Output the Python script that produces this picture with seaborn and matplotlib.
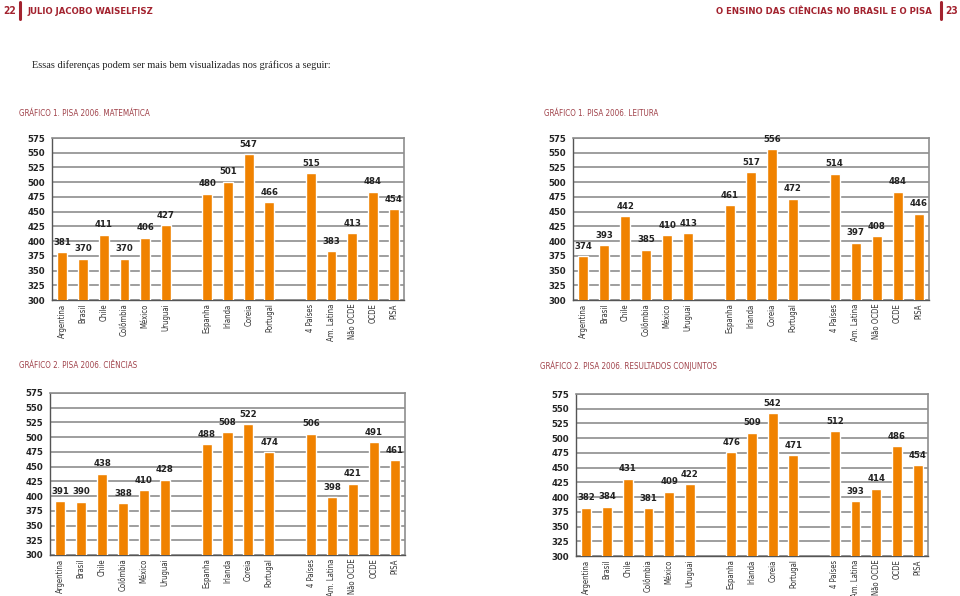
import matplotlib
matplotlib.use("Agg")
import matplotlib.pyplot as plt
import seaborn as sns
import pandas as pd
import numpy as np

# categories (two blank slots separate the groups)
countries = ["Argentina", "Brasil", "Chile", "Colômbia", "México", "Uruguai",
             "Espanha", "Irlanda", "Coreia", "Portugal",
             "4 Países", "Am. Latina", "Não OCDE", "OCDE", "PISA"]
order = countries[:6] + [" "] + countries[6:10] + ["  "] + countries[10:]

matematica = [381, 370, 411, 370, 406, 427, 480, 501, 547, 466, 515, 383, 413, 484, 454]
leitura = [374, 393, 442, 385, 410, 413, 461, 517, 556, 472, 514, 397, 408, 484, 446]
ciencias = [391, 390, 438, 388, 410, 428, 488, 508, 522, 474, 506, 398, 421, 491, 461]
conjuntos = [382, 384, 431, 381, 409, 422, 476, 509, 542, 471, 512, 393, 414, 486, 454]

titles = ["GRÁFICO 1. PISA 2006. MATEMÁTICA", "GRÁFICO 1. PISA 2006. LEITURA",
          "GRÁFICO 2. PISA 2006. CIÊNCIAS", "GRÁFICO 2. PISA 2006. RESULTADOS CONJUNTOS"]

sns.set_style("white")
plt.rcParams['font.family'] = ['DejaVu Sans']
plt.rcParams['font.stretch'] = 'condensed'

ORANGE = "#F08200"
RED = "#A3232F"
TITLE_RED = "#A0424A"
GRID = "#8E8E8E"

W, H = 960, 596
fig = plt.figure(figsize=(9.6, 5.96), dpi=100)


def px_axes(left, right, top, bottom):
    return fig.add_axes([left / W, 1 - bottom / H, (right - left) / W, (bottom - top) / H])


def draw(ax, values):
    df = pd.DataFrame({"pais": countries, "valor": values})
    sns.barplot(data=df, x="pais", y="valor", order=order, color=ORANGE,
                saturation=1, width=0.48, ax=ax, zorder=3)
    for c in ax.containers:
        labels = [f"{v:.0f}" if not np.isnan(v) else "" for v in c.datavalues]
        ax.bar_label(c, labels=labels, padding=4, fontsize=6.8,
                     fontweight="bold", color="#222222")
    ax.set_ylim(300, 575)
    ax.set_yticks(np.arange(300, 576, 25))
    ax.yaxis.grid(True, color=GRID, linewidth=1.2, zorder=0)
    ax.set_axisbelow(True)
    ax.set_xlim(-0.5, len(order) - 0.5)
    ax.set_xlabel("")
    ax.set_ylabel("")
    ax.set_xticks(range(len(order)))
    ax.set_xticklabels([o.strip() for o in order], rotation=90, fontsize=5.6,
                       color="#333333")
    ax.set_xticks(np.arange(-0.5, len(order), 1), minor=True)
    ax.tick_params(axis="x", which="major", length=0, pad=2.5)
    ax.tick_params(axis="x", which="minor", length=4, width=0.8, color="#555555")
    ax.tick_params(axis="y", length=3, width=0.8, color="#555555", pad=2,
                   labelsize=6.8)
    for lab in ax.get_yticklabels():
        lab.set_fontweight("bold")
        lab.set_color("#222222")
    for s in ["left", "bottom"]:
        ax.spines[s].set_color("#555555")
        ax.spines[s].set_linewidth(1.0)
    for s in ["right", "top"]:
        ax.spines[s].set_color(GRID)
        ax.spines[s].set_linewidth(1.2)


ax1 = px_axes(52, 404, 138, 300)
ax2 = px_axes(573, 929, 138, 300)
ax3 = px_axes(50, 405, 393, 555)
ax4 = px_axes(576, 928, 394, 556)

for ax, vals in zip([ax1, ax2, ax3, ax4], [matematica, leitura, ciencias, conjuntos]):
    draw(ax, vals)

# page header
fig.text(3 / W, 1 - 11 / H, "22", fontsize=7.3, fontweight="bold", color=RED, va="center")
fig.add_artist(plt.Line2D([20 / W, 20 / W], [1 - 2 / H, 1 - 19 / H], color=RED, lw=2.2))
fig.text(28 / W, 1 - 11 / H, "JULIO JACOBO WAISELFISZ", fontsize=6.8,
         fontweight="bold", color=RED, va="center")
fig.text(932 / W, 1 - 11 / H, "O ENSINO DAS CIÊNCIAS NO BRASIL E O PISA", fontsize=6.8,
         fontweight="bold", color=RED, va="center", ha="right")
fig.add_artist(plt.Line2D([941 / W, 941 / W], [1 - 2 / H, 1 - 19 / H], color=RED, lw=2.2))
fig.text(958 / W, 1 - 11 / H, "23", fontsize=7.3, fontweight="bold", color=RED,
         va="center", ha="right")

fig.text(32 / W, 1 - 65 / H,
         "Essas diferenças podem ser mais bem visualizadas nos gráficos a seguir:",
         fontsize=7.4, family=["Liberation Serif", "DejaVu Serif"], stretch="normal",
         color="#222222", va="center")

title_pos = [(19, 113), (544, 113), (19, 366), (540, 366)]
for t, (x, y) in zip(titles, title_pos):
    fig.text(x / W, 1 - y / H, t, fontsize=5.8, color=TITLE_RED, va="center")

fig.savefig("out.png", dpi=100)
